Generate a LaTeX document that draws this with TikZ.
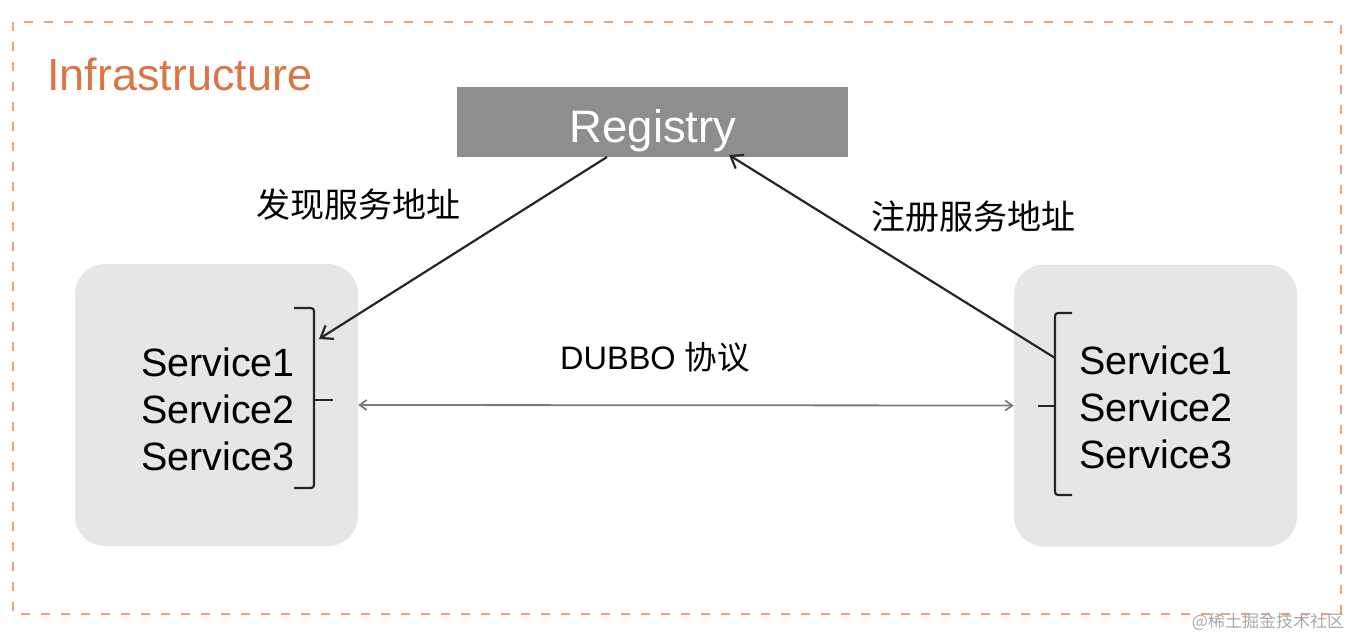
\documentclass[tikz,border=0pt]{standalone}
\usepackage{fontspec}
\setmainfont{Liberation Sans}
\newfontfamily\cjk{Noto Sans CJK SC}
\usetikzlibrary{arrows.meta}
\definecolor{orangeline}{HTML}{E8A478}
\definecolor{orangetext}{HTML}{DC7446}
\definecolor{regfill}{HTML}{8E8E8E}
\definecolor{boxfill}{HTML}{E6E6E6}
\definecolor{dgray}{HTML}{7A7A7A}
\definecolor{wmgray}{HTML}{A8A8A8}
\tikzset{
  svcbox/.style={fill=boxfill, draw=none, rounded corners=30pt, minimum width=283pt, minimum height=282pt},
  svctext/.style={font=\fontsize{39.5}{46}\selectfont, anchor=base west, inner sep=0pt},
  brk/.style={line width=2.2pt, black!85, rounded corners=3pt},
  callarrow/.style={line width=2.2pt, black!85, -{Straight Barb[length=11pt,width=16pt,line width=2.2pt]}},
  proto/.style={line width=1.8pt, dgray, {Straight Barb[length=7pt,width=10pt]}-{Straight Barb[length=7pt,width=10pt]}},
  cnlabel/.style={font=\cjk\fontsize{34}{40}\selectfont, inner sep=0pt},
}
\begin{document}
\begin{tikzpicture}[x=1pt,y=-1pt]
\useasboundingbox (0,0) rectangle (1369,642);
% outer dashed frame
\draw[orangeline, line width=2.2pt, dash pattern=on 9pt off 11pt] (13,22) rectangle (1341,614);
\node[anchor=base west, inner sep=0pt, text=orangetext, font=\fontsize{45}{50}\selectfont] (infra) at (47,91) {Infrastructure};
% registry
\node[fill=regfill, minimum width=391pt, minimum height=70pt, inner sep=0pt] (reg) at (652.5,122) {};
\node[anchor=base, inner sep=0pt, text=white, font=\fontsize{45.5}{50}\selectfont] (regtext) at (653,142) {Registry};
% service boxes
\node[svcbox] (lbox) at (216.5,405) {};
\node[svcbox] (rbox) at (1155.5,405.5) {};
\node[svctext] (l1) at (141,376) {Service1};
\node[svctext] (l2) at (141,423) {Service2};
\node[svctext] (l3) at (141,470) {Service3};
\node[svctext] (r1) at (1079,374) {Service1};
\node[svctext] (r2) at (1079,421) {Service2};
\node[svctext] (r3) at (1079,468) {Service3};
% brackets
\coordinate (lbtop) at (294,308);
\coordinate (lbbot) at (294,488);
\coordinate (lbmid) at (314,400);
\coordinate (lbtick) at (333,400);
\draw[brk] (lbtop) -- (314,308) -- (314,488) -- (lbbot);
\draw[brk] (lbmid) -- (lbtick);
\coordinate (rbtop) at (1072,313);
\coordinate (rbbot) at (1072,495);
\coordinate (rbmid) at (1055,406);
\coordinate (rbtick) at (1038,406);
\draw[brk] (rbtop) -- (1055,313) -- (1055,495) -- (rbbot);
\draw[brk] (rbmid) -- (rbtick);
% arrows
\coordinate (regA) at (607,157);
\coordinate (regB) at (729,155);
\coordinate (lin) at (319,339);
\coordinate (rout) at (1055,358);
\draw[callarrow] (regA) -- (lin);
\draw[callarrow] (rout) -- (regB);
\draw[proto] (lbox.east) -- (rbox.west);
% labels
\node[cnlabel] (disc) at (358,205) {发现服务地址};
\node[cnlabel] (regl) at (973,217) {注册服务地址};
\node[inner sep=0pt, font=\fontsize{32.5}{36}\selectfont] (dubbo) at (655,357) {DUBBO {\cjk 协议}};
% watermark
\node[inner sep=0pt, text=wmgray, font=\cjk\fontsize{17}{20}\selectfont] (wm) at (1268,622) {@稀土掘金技术社区};
\end{tikzpicture}
\end{document}
